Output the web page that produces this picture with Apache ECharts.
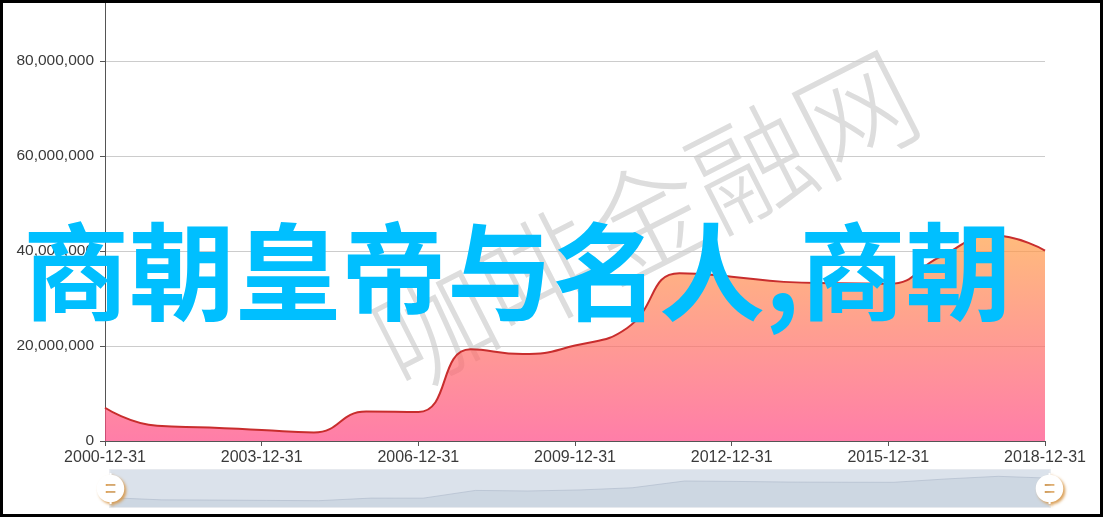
<!DOCTYPE html>
<html>
<head>
<meta charset="utf-8">
<script src="https://cdn.jsdelivr.net/npm/echarts@6/dist/echarts.min.js"></script>
<style>
html,body{margin:0;padding:0;background:#fff;}
#chart{width:1103px;height:517px;}
</style>
</head>
<body>
<div id="chart"></div>
<script>
var categories = ['2000-12-31','2001-12-31','2002-12-31','2003-12-31','2004-12-31','2005-12-31','2006-12-31','2007-12-31','2008-12-31','2009-12-31','2010-12-31','2011-12-31','2012-12-31','2013-12-31','2014-12-31','2015-12-31','2016-12-31','2017-12-31','2018-12-31'];
var values = [7000000, 3200000, 2850000, 2300000, 1800000, 6200000, 6100000, 19300000, 18300000, 20100000, 23800000, 35300000, 34600000, 33500000, 33200000, 33100000, 38800000, 43300000, 40100000];
var yTicks = [0, 20000000, 40000000, 60000000, 80000000, 100000000];
var titleText = '商朝皇帝与名人,商朝';
var watermarkText = '咖啡金融网';

var chart = echarts.init(document.getElementById('chart'), null, {renderer: 'canvas'});
var font = '"Liberation Sans", Arial, sans-serif';
var option = {
  animation: false,
  backgroundColor: '#fff',
  grid: {left: 105, right: 58, top: -34, bottom: 76, containLabel: false, outerBoundsMode: 'none'},
  xAxis: {
    type: 'category',
    boundaryGap: false,
    data: categories,
    axisLine: {show: true, lineStyle: {color: '#555', width: 1}},
    axisTick: {show: true, interval: 2, length: 5, lineStyle: {color: '#555'}},
    axisLabel: {interval: 2, color: '#3a3a3a', fontSize: 16, fontFamily: font, margin: 9},
    splitLine: {show: false}
  },
  yAxis: {
    type: 'value',
    min: yTicks[0],
    max: yTicks[yTicks.length - 1],
    interval: yTicks[1] - yTicks[0],
    axisLine: {show: true, lineStyle: {color: '#555', width: 1}},
    axisTick: {show: true, length: 5, lineStyle: {color: '#555'}},
    axisLabel: {
      color: '#3a3a3a', fontSize: 15.5, fontFamily: font, margin: 11,
      formatter: function (v) { return v.toString().replace(/\B(?=(\d{3})+(?!\d))/g, ','); }
    },
    splitLine: {show: true, lineStyle: {color: '#ccc', width: 1}}
  },
  dataZoom: [{
    type: 'slider',
    start: 0,
    end: 100,
    left: 107,
    right: 55,
    bottom: 9,
    height: 39,
    showDetail: false,
    brushSelect: false,
    moveHandleSize: 0,
    backgroundColor: 'rgba(0,0,0,0)',
    borderColor: '#e6e9ee',
    fillerColor: 'rgba(190,202,218,0.55)',
    dataBackground: {
      lineStyle: {color: 'rgba(150,162,180,0.6)', width: 1},
      areaStyle: {color: 'rgba(170,182,198,0.35)', opacity: 1}
    },
    selectedDataBackground: {
      lineStyle: {color: 'rgba(150,162,180,0.6)', width: 1},
      areaStyle: {color: 'rgba(170,182,198,0.35)', opacity: 1}
    },
    handleIcon: 'path://M10.7,11.9v-1.3H9.3v1.3c-4.9,0.3-8.8,4.4-8.8,9.4c0,5,3.9,9.1,8.8,9.4v1.3h1.3v-1.3c4.9-0.3,8.8-4.4,8.8-9.4C19.5,16.3,15.6,12.2,10.7,11.9z M13.3,24.4H6.7V23h6.6V24.4z M13.3,19.6H6.7v-1.4h6.6V19.6z',
    handleSize: '80%',
    handleStyle: {
      color: '#fff', borderWidth: 0,
      shadowBlur: 3, shadowColor: 'rgba(214,150,70,0.9)', shadowOffsetX: 2, shadowOffsetY: 2
    }
  }],
  series: [{
    type: 'line',
    data: values,
    smooth: true,
    symbol: 'none',
    sampling: 'average',
    lineStyle: {color: 'rgb(200,45,45)', width: 2},
    itemStyle: {color: 'rgb(200,45,45)'},
    areaStyle: {
      opacity: 0.7,
      color: new echarts.graphic.LinearGradient(0, 0, 0, 1, [
        {offset: 0, color: 'rgb(255,158,68)'},
        {offset: 1, color: 'rgb(255,70,131)'}
      ])
    }
  }],
  graphic: [
    {
      type: 'text',
      z: -10,
      x: 645, y: 220,
      rotation: 27 * Math.PI / 180,
      style: {
        text: watermarkText,
        fill: '#dddddd',
        font: '300 118px "Noto Sans CJK SC", sans-serif',
        align: 'center',
        verticalAlign: 'middle'
      }
    },
    {
      type: 'text',
      z: 100,
      x: 23, y: 272,
      style: {
        text: titleText,
        fill: '#00bfff',
        font: 'bold 106px "Noto Sans CJK SC", sans-serif',
        align: 'left',
        verticalAlign: 'middle'
      }
    },
    {
      type: 'rect',
      z: 200,
      shape: {x: 1.5, y: 1.5, width: 1100, height: 514},
      style: {fill: 'none', stroke: '#000', lineWidth: 3}
    }
  ]
};
chart.setOption(option);
</script>
</body>
</html>
